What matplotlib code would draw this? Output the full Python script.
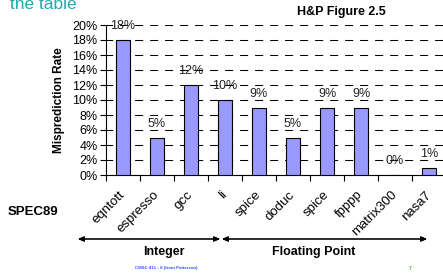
import numpy as np
import matplotlib.pyplot as plt
import matplotlib.transforms as mtransforms
from matplotlib.ticker import PercentFormatter

plt.rcParams['font.family'] = ['Liberation Sans', 'DejaVu Sans']
plt.rcParams['lines.scale_dashes'] = False

# datos del grafico (H&P Figure 2.5)
benchmarks = ['eqntott', 'espresso', 'gcc', 'li', 'spice', 'doduc',
              'spice', 'fpppp', 'matrix300', 'nasa7']
mispred = [18, 5, 12, 10, 9, 5, 9, 9, 0, 1]
y_ticks = [0, 2, 4, 6, 8, 10, 12, 14, 16, 18, 20]

W, H = 443, 273
fig = plt.figure(figsize=(W / 100, H / 100), dpi=100)
ax = fig.add_axes([106 / W, 1 - 175 / H, 340 / W, 150 / H])

x = np.arange(len(benchmarks))
ax.bar(x, mispred, width=0.42, color='#9999FF', edgecolor='black',
       linewidth=0.8, zorder=3)

for xi, v in zip(x, mispred):
    ax.annotate(f'{v}%', (xi, v), xytext=(0, 10), textcoords='offset points',
                ha='center', va='center', fontsize=9, color='#222222')

ax.set_xlim(-0.5, 9.5)
ax.set_ylim(0, 20)
ax.set_yticks(y_ticks)
ax.yaxis.set_major_formatter(PercentFormatter(decimals=0))
ax.yaxis.grid(True, color='black', linestyle=(1, (5.8, 5.0)), linewidth=0.75, zorder=0)
ax.tick_params(axis='y', direction='out', length=4, width=0.8, labelsize=9, pad=2)

ax.set_xticks(x)
ax.set_xticklabels(benchmarks, rotation=45, ha='right', va='center',
                   rotation_mode='anchor', fontsize=9.5)
shift = mtransforms.ScaledTranslation(-0.06, 0, fig.dpi_scale_trans)
for lab in ax.get_xticklabels():
    lab.set_transform(lab.get_transform() + shift)
ax.set_xticks(np.arange(-0.5, 10, 1), minor=True)
ax.tick_params(axis='x', which='major', length=0, pad=13)
ax.tick_params(axis='x', which='minor', direction='out', length=4, width=0.8)

for s in ['top', 'right']:
    ax.spines[s].set_visible(False)
for s in ['left', 'bottom']:
    ax.spines[s].set_linewidth(0.8)

ax.set_ylabel('Misprediction Rate', fontsize=8.5, fontweight='bold', labelpad=5)

fig.text(10 / W, 1 - 9 / H, 'the table', fontsize=12.5, color='#22AAAA', va='baseline')
fig.text(341 / W, 1 - 12 / H, 'H&P Figure 2.5', fontsize=9, fontweight='bold',
         ha='center', va='center')
fig.text(33 / W, 1 - 212 / H, 'SPEC89', fontsize=9.5, fontweight='bold',
         ha='center', va='center')

arr = dict(arrowstyle='<|-|>,head_length=0.35,head_width=0.15', color='black', lw=0.8,
           shrinkA=0, shrinkB=0)
fig.add_artist(plt.annotate('', xy=(78 / W, 1 - 239 / H), xytext=(220 / W, 1 - 239 / H),
                            xycoords='figure fraction', arrowprops=arr))
fig.add_artist(plt.annotate('', xy=(222 / W, 1 - 239 / H), xytext=(427 / W, 1 - 239 / H),
                            xycoords='figure fraction', arrowprops=arr))
fig.text(164 / W, 1 - 252 / H, 'Integer', fontsize=9, fontweight='bold',
         ha='center', va='center')
fig.text(314 / W, 1 - 252 / H, 'Floating Point', fontsize=9, fontweight='bold',
         ha='center', va='center')

fig.text(166 / W, 1 - 268 / H, 'CMSC 411 - 8 (from Patterson)', fontsize=3.2,
         fontweight='bold', color='#3355FF', ha='center', va='center')
fig.text(410 / W, 1 - 268 / H, '7', fontsize=4, fontweight='bold', color='#33CC33',
         ha='center', va='center')

fig.savefig('out.png', dpi=100)
